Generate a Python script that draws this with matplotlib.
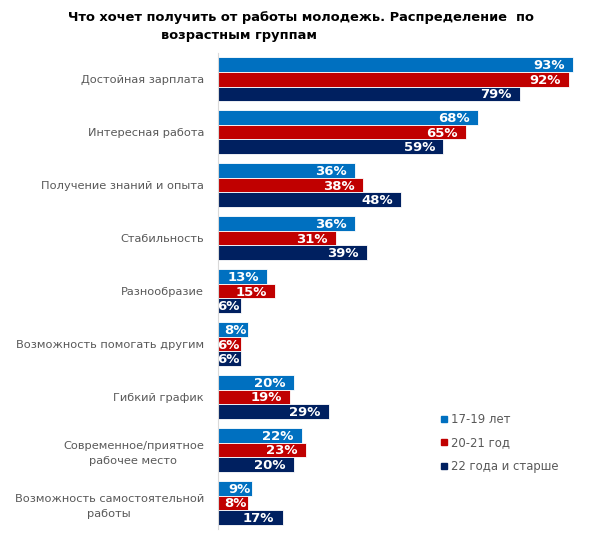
import numpy as np
import matplotlib.pyplot as plt
from matplotlib.lines import Line2D

categories = ['Достойная зарплата', 'Интересная работа', 'Получение знаний и опыта',
              'Стабильность', 'Разнообразие', 'Возможность помогать другим',
              'Гибкий график', 'Современное/приятное\nрабочее место',
              'Возможность самостоятельной\nработы']
series_names = ['17-19 лет', '20-21 год', '22 года и старше']
v_17_19 = [93, 68, 36, 36, 13, 8, 20, 22, 9]
v_20_21 = [92, 65, 38, 31, 15, 6, 19, 23, 8]
v_22 = [79, 59, 48, 39, 6, 6, 29, 20, 17]
colors = ['#0070C0', '#C00000', '#002060']

fig = plt.figure(figsize=(6, 5.44), dpi=100)
ax = fig.add_axes([0.363, 0.027, 0.637, 0.876])

y = np.arange(len(categories))
h = 0.275
for k, (vals, c) in enumerate(zip([v_17_19, v_20_21, v_22], colors)):
    pos = y + (k - 1) * h
    ax.barh(pos, vals, height=h, color=c, edgecolor='white', linewidth=0.6)
    for p, v in zip(pos, vals):
        pad = 2.2 if v >= 12 else 0.4
        ax.text(v - pad, p + 0.02, f'{v}%', ha='right', va='center',
                color='white', fontsize=9.5, fontweight='bold')

ax.set_xlim(0, 100)
ax.set_ylim(8.5, -0.5)
ax.set_xticks([])
ax.set_yticks(y)
ax.set_yticklabels(categories, fontsize=8.2, color='#595959')
ax.tick_params(axis='y', length=0, pad=10)
for lbl in ax.get_yticklabels():
    lbl.set_horizontalalignment('right')
    lbl.set_multialignment('center')
    lbl.set_linespacing(1.6)
for s in ['top', 'right', 'bottom']:
    ax.spines[s].set_visible(False)
ax.spines['left'].set_color('#d9d9d9')
ax.spines['left'].set_linewidth(0.8)

fig.text(0.113, 1 - 18 / 544, 'Что хочет получить от работы молодежь. Распределение  по',
         fontsize=9.4, fontweight='bold', va='center', ha='left')
fig.text(0.268, 1 - 35 / 544, 'возрастным группам',
         fontsize=9.4, fontweight='bold', va='center', ha='left')

handles = [Line2D([], [], marker='s', linestyle='none', markersize=5,
                  color=c) for c in colors]
leg = fig.legend(handles, series_names, loc='upper left',
                 bbox_to_anchor=(0.727, 1 - 408 / 544), frameon=False,
                 fontsize=8.4, handlelength=0.6, handletextpad=0.3,
                 labelspacing=0.92, borderaxespad=0)
for t in leg.get_texts():
    t.set_color('#595959')

fig.savefig('out.png', dpi=100)
